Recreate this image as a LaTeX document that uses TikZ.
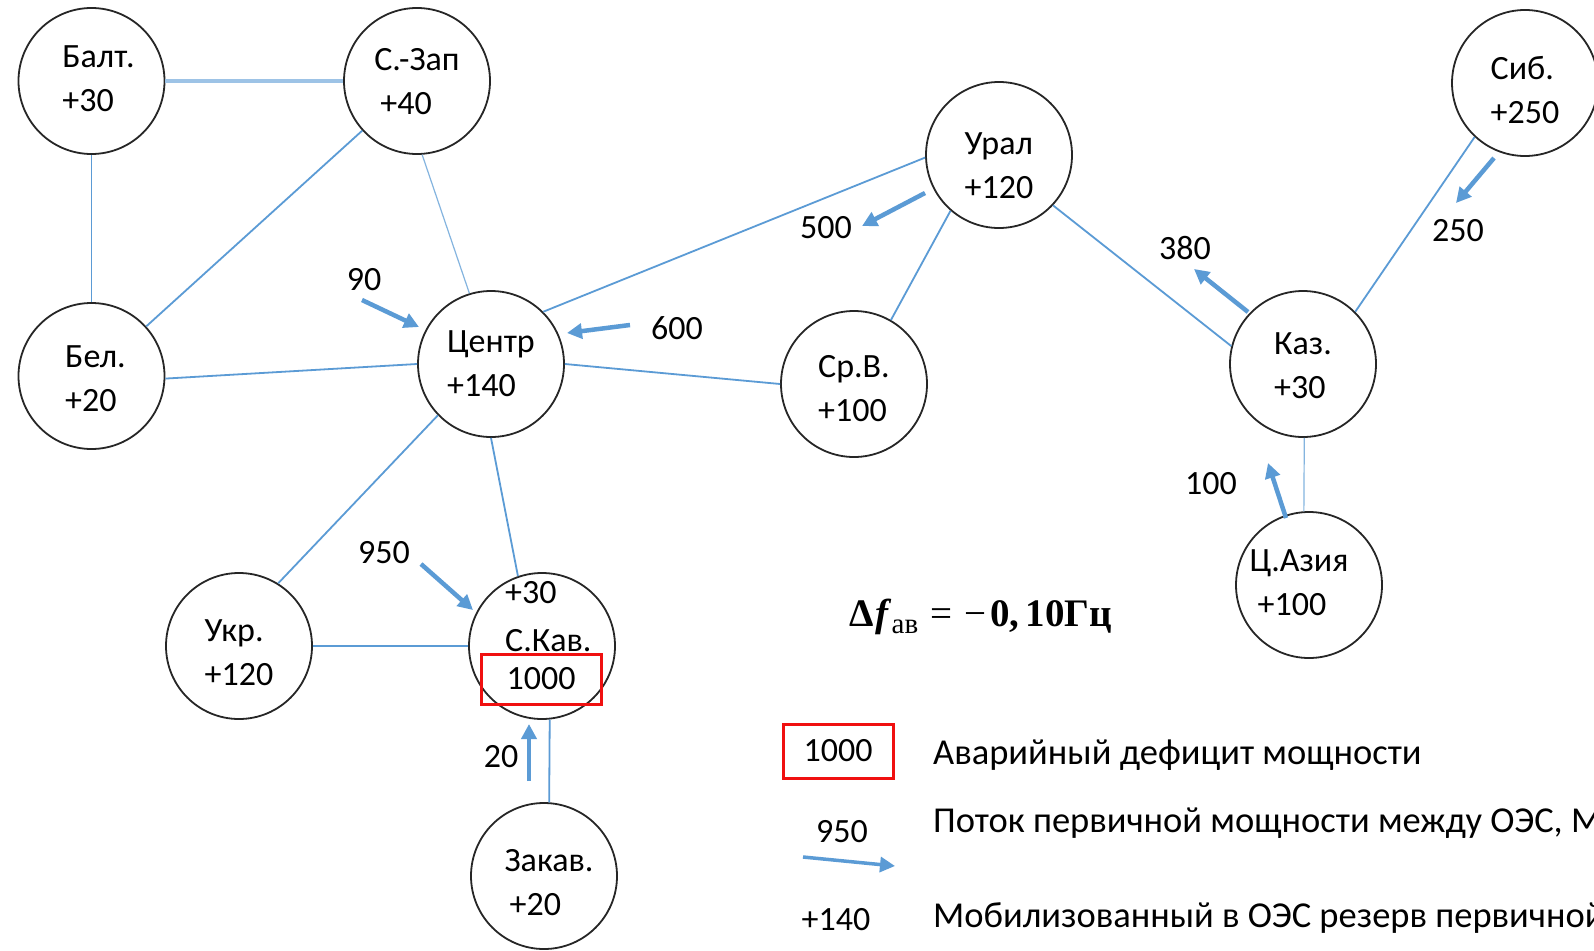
\documentclass[tikz,border=0pt]{standalone}
\usepackage{fontspec}
\setmainfont{Carlito}
\newfontfamily\fserif{Liberation Serif}
\usetikzlibrary{arrows.meta}
\definecolor{edgeblue}{HTML}{5B9BD5}
\definecolor{lightblue}{HTML}{9DC3E6}
\definecolor{boxred}{HTML}{F01010}
\begin{document}
\begin{tikzpicture}[x=1pt,y=-1pt,
  oes/.style={circle,draw=black!85,line width=1.8pt,minimum size=146pt,inner sep=0pt},
  oestext/.style={align=left,inner sep=0pt,font=\fontsize{34}{44}\selectfont},
  lbl/.style={inner sep=0pt,font=\fontsize{34}{40}\selectfont},
  leg/.style={inner sep=0pt,font=\fontsize{36.5}{42}\selectfont},
  tie/.style={draw=edgeblue,line width=1.8pt},
  thintie/.style={draw=edgeblue!75,line width=1.2pt},
  flow/.style={draw=edgeblue,line width=4.5pt,-{Triangle[length=15pt,width=15pt]}},
  defbox/.style={draw=boxred,line width=3pt,inner sep=0pt,font=\fontsize{34}{40}\selectfont}
]
\useasboundingbox (0,0) rectangle (1594,950);
\clip (0,0) rectangle (1594,950);
\fill[white] (0,0) rectangle (1594,950);

% ---- OES circles
\node[oes] (balt)  at (91.5,81) {};
\node[oes] (szap)  at (417,81) {};
\node[oes] (bel)   at (91.5,376) {};
\node[oes] (centr) at (491,364) {};
\node[oes] (srv)   at (854,384) {};
\node[oes] (ural)  at (999,155) {};
\node[oes] (sib)   at (1525,83) {};
\node[oes] (kaz)   at (1303,364) {};
\node[oes] (casia) at (1309,585) {};
\node[oes] (ukr)   at (239,646) {};
\node[oes] (skav)  at (542,646) {};
\node[oes] (zakav) at (544,876) {};

% ---- texts in circles
\node[oestext] (balt-t)  at ([shift={(7,-2)}]balt.center) {Балт.\\+30};
\node[oestext] (szap-t)  at ([shift={(0,1)}]szap.center) {С.-Зап\\\hspace*{6pt}+40};
\node[oestext] (bel-t)   at ([shift={(4,3)}]bel.center) {Бел.\\+20};
\node[oestext] (centr-t) at ([shift={(0,0)}]centr.center) {Центр\\+140};
\node[oestext] (srv-t)   at ([shift={(0,5)}]srv.center) {Ср.В.\\+100};
\node[oestext] (ural-t)  at ([shift={(0,11)}]ural.center) {Урал\\+120};
\node[oestext] (sib-t)   at ([shift={(0,7)}]sib.center) {Сиб.\\+250};
\node[oestext] (kaz-t)   at ([shift={(0,2)}]kaz.center) {Каз.\\+30};
\node[oestext] (casia-t) at ([shift={(-10,-2)}]casia.center) {Ц.Азия\\\hspace*{8pt}+100};
\node[oestext] (ukr-t)   at ([shift={(0,7)}]ukr.center) {Укр.\\+120};
\node[oestext] (zakav-t) at ([shift={(5,7)}]zakav.center) {Закав.\\\hspace*{5pt}+20};

\node[lbl,anchor=west] (skav-r) at (505,593) {+30};
\node[lbl,anchor=west] (skav-n) at (505,641) {С.Кав.};
\node[defbox,minimum width=120pt,minimum height=50pt] (skav-d) at (541,679) {1000};

% ---- ties
\draw[draw=lightblue,line width=3.5pt] (balt.0) -- (szap.180);
\draw[tie] (balt.270) -- (bel.90);
\draw[tie] (szap) -- (bel);
\draw[thintie] (szap.274) -- (centr.107);
\draw[tie] (bel.358) -- (centr.180);
\draw[tie] (centr.45) -- (ural.182);
\draw[tie] (centr.0) -- (srv.180);
\draw[tie] (centr.224) -- (ukr.58);
\draw[tie] (centr.270) -- (skav.109);
\draw[tie] (ukr.0) -- (skav.180);
\draw[tie] (skav.276) -- (zakav.86);
\draw[tie] (ural.229) -- (srv.60);
\draw[tie] (ural.317) -- (kaz.166);
\draw[tie] (kaz.45) -- (sib.227);
\draw[thintie] (kaz.271) -- (casia.94);

% ---- flows
\coordinate (f90a) at (362,300);   \coordinate (f90b) at (419,327);
\coordinate (f600a) at (630,325);  \coordinate (f600b) at (567,333);
\coordinate (f500a) at (925,193);  \coordinate (f500b) at (862,226);
\coordinate (f380a) at (1248,312); \coordinate (f380b) at (1194,269);
\coordinate (f250a) at (1494,158); \coordinate (f250b) at (1456,203);
\coordinate (f100a) at (1286,518); \coordinate (f100b) at (1268,463);
\coordinate (f950a) at (421,564);  \coordinate (f950b) at (473,610);
\coordinate (f20a) at (529,781);   \coordinate (f20b) at (529,724);
\draw[flow] (f90a) -- (f90b);
\draw[flow] (f600a) -- (f600b);
\draw[flow] (f500a) -- (f500b);
\draw[flow] (f380a) -- (f380b);
\draw[flow] (f250a) -- (f250b);
\draw[flow] (f100a) -- (f100b);
\draw[flow] (f950a) -- (f950b);
\draw[flow] (f20a) -- (f20b);
\node[lbl] (l90)  at (364,280) {90};
\node[lbl] (l600) at (677,328) {600};
\node[lbl] (l500) at (826,228) {500};
\node[lbl] (l380) at (1185,248) {380};
\node[lbl] (l250) at (1458,231) {250};
\node[lbl] (l100) at (1211,484) {100};
\node[lbl] (l950) at (384,553) {950};
\node[lbl] (l20)  at (501,757) {20};

% ---- formula
\node[inner sep=0pt,anchor=west,font=\fserif\fontsize{39}{44}\selectfont] (fml) at (849,617)
  {{\bfseries Δ\hspace{2pt}\itshape f}\hspace{3pt}\raisebox{-7pt}{\fontsize{29}{30}\selectfont ав}\hspace{12pt}=\hspace{12pt}−\hspace{4pt}{\bfseries 0,\,10Гц}};

% ---- legend
\node[defbox,minimum width=110pt,minimum height=54pt] (lg-box) at (838,751) {1000};
\node[leg,anchor=west] (lg-t1) at (933,755) {Аварийный дефицит мощности};
\node[lbl] (lg-950) at (842,832) {950};
\coordinate (lga) at (803,857); \coordinate (lgb) at (895,866);
\draw[flow,line width=3.5pt] (lga) -- (lgb);
\node[leg,anchor=west] (lg-t2) at (933,823) {Поток первичной мощности между ОЭС, МВт};
\node[lbl] (lg-140) at (836,920) {+140};
\node[leg,anchor=west] (lg-t3) at (933,918) {Мобилизованный в ОЭС резерв первичной мощности};
\end{tikzpicture}
\end{document}
